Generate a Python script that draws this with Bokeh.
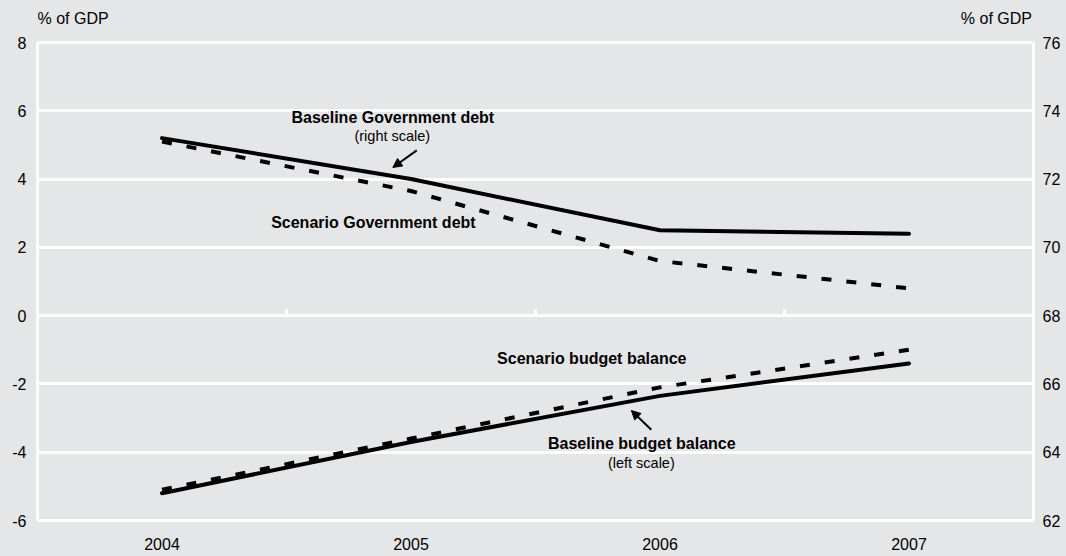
from bokeh.plotting import figure
from bokeh.models import Range1d, LinearAxis, FixedTicker, Label, Arrow, NormalHead
from bokeh.embed import file_html
from bokeh.resources import INLINE

# ---- data ----
years = ["2004", "2005", "2006", "2007"]
baseline_balance = [-5.2, -3.7, -2.35, -1.4]
scenario_balance = [-5.1, -3.6, -2.1, -1.0]
baseline_debt = [73.2, 72.0, 70.5, 70.4]
scenario_debt = [73.1, 71.65, 69.6, 68.8]
left_ticks = [-6, -4, -2, 0, 2, 4, 6, 8]
right_ticks = [62, 64, 66, 68, 70, 72, 74, 76]
unit_label = "% of GDP"

BG = "#e5e6e8"
FONT = "Liberation Sans"

xs = [i + 0.5 for i in range(len(years))]
boundaries = [i for i in range(1, len(years))]

# frame reaches to the top of the canvas so the unit labels can sit in it
PX_PER_UNIT = (520 - 42) / (left_ticks[-1] - left_ticks[0])
headroom = 42 / PX_PER_UNIT

p = figure(width=1066, height=556, output_backend="svg", toolbar_location=None,
           x_range=Range1d(0, len(years)),
           y_range=Range1d(left_ticks[0], left_ticks[-1] + headroom))
p.min_border_left = 37
p.min_border_right = 33
p.min_border_top = 0
p.min_border_bottom = 36
p.background_fill_color = BG
p.border_fill_color = BG
p.outline_line_color = None

p.extra_y_ranges = {"debt": Range1d(right_ticks[0], right_ticks[-1] + headroom)}

# grid
p.xgrid.grid_line_color = None
p.ygrid.ticker = FixedTicker(ticks=left_ticks)
p.ygrid.grid_line_color = "white"
p.ygrid.grid_line_width = 3

def style_axis(ax, standoff):
    ax.axis_line_color = "white"
    ax.axis_line_width = 3
    ax.major_tick_line_color = None
    ax.minor_tick_line_color = None
    ax.major_tick_out = 0
    ax.major_tick_in = 0
    ax.major_label_standoff = standoff
    ax.major_label_text_font = FONT
    ax.major_label_text_font_size = "16px"
    ax.major_label_text_color = "black"

# x axis
xa = p.xaxis[0]
xa.ticker = FixedTicker(ticks=xs)
xa.major_label_overrides = {x: y for x, y in zip(xs, years)}
style_axis(xa, 17)

# left axis
ya = p.yaxis[0]
ya.ticker = FixedTicker(ticks=left_ticks)
ya.major_label_overrides = {t: str(t) for t in left_ticks}
ya.bounds = (left_ticks[0], left_ticks[-1])
style_axis(ya, 11)

# right axis
ra = LinearAxis(y_range_name="debt", ticker=FixedTicker(ticks=right_ticks))
ra.major_label_overrides = {t: str(t) for t in right_ticks}
ra.bounds = (right_ticks[0], right_ticks[-1])
style_axis(ra, 9)
p.add_layout(ra, "right")

# small category-boundary ticks on the zero line
p.segment(x0=boundaries, y0=[0] * len(boundaries), x1=boundaries, y1=[0.18] * len(boundaries),
          line_color="white", line_width=3)

# series
p.line(xs, scenario_debt, y_range_name="debt", line_color="black", line_width=4,
       line_dash="10 15")
p.line(xs, baseline_debt, y_range_name="debt", line_color="black", line_width=4,
       line_join="round", line_cap="round")
p.line(xs, scenario_balance, line_color="black", line_width=4, line_dash="10 15")
p.line(xs, baseline_balance, line_color="black", line_width=4,
       line_join="round", line_cap="round")

# annotations
def lab(x, y, text, bold=False, size="16px", align="center"):
    p.add_layout(Label(x=x, y=y, text=text, text_font=FONT, text_font_size=size,
                       text_font_style="bold" if bold else "normal", text_color="black",
                       text_align=align, text_baseline="middle"))

lab(1.427, 5.80, "Baseline Government debt", bold=True)
lab(1.425, 5.25, "(right scale)", size="14.5px")
lab(1.349, 2.73, "Scenario Government debt", bold=True)
lab(2.226, -1.26, "Scenario budget balance", bold=True)
lab(2.427, -3.75, "Baseline budget balance", bold=True)
lab(2.425, -4.33, "(left scale)", size="14.5px")

# unit labels above the two value axes
lab(0.0, 8.70, unit_label, align="left")
lab(3.994, 8.70, unit_label, align="right")

p.add_layout(Arrow(x_start=1.523, y_start=4.84, x_end=1.427, y_end=4.34,
                   line_color="black", line_width=2,
                   end=NormalHead(size=9, fill_color="black", line_color="black")))
p.add_layout(Arrow(x_start=2.465, y_start=-3.34, x_end=2.385, y_end=-2.78,
                   line_color="black", line_width=2,
                   end=NormalHead(size=9, fill_color="black", line_color="black")))

html = file_html(p, INLINE)
style = "<style>html, body { margin: 0; padding: 0; background: #e5e6e8; overflow: hidden; }</style>"
html = html.replace("</head>", style + "</head>", 1)
open("out.html", "w").write(html)
